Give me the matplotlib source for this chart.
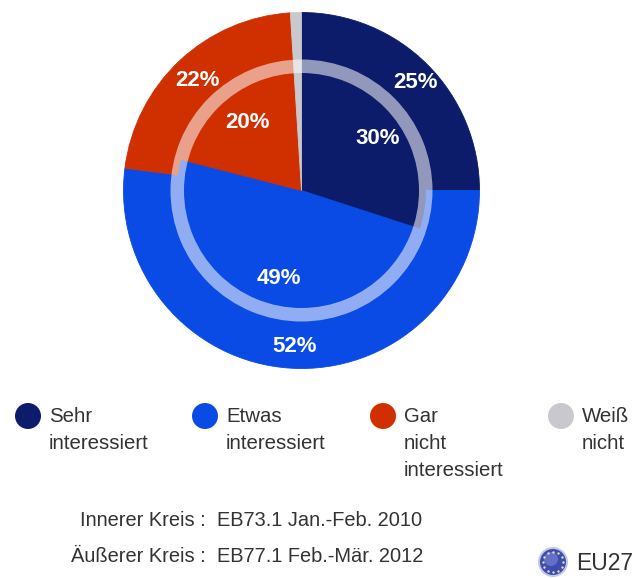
import numpy as np
import matplotlib
matplotlib.use("Agg")
import matplotlib.pyplot as plt
from matplotlib.patches import Circle, Wedge

plt.rcParams["font.family"] = ["Liberation Sans", "DejaVu Sans"]

outer_values = [25, 52, 22, 1]
inner_values = [30, 49, 20, 1]
colors = ["#0c1c6b", "#0a4be6", "#d03000", "#c9c9cd"]
categories = ["Sehr\ninteressiert", "Etwas\ninteressiert", "Gar\nnicht\ninteressiert", "Weiß\nnicht"]
outer_labels = ["25%", "52%", "22%"]
inner_labels = ["30%", "49%", "20%"]
footer_names = ["Innerer Kreis :", "Äußerer Kreis :"]
footer_waves = ["EB73.1 Jan.-Feb. 2010", "EB77.1 Feb.-Mär. 2012"]

W, H = 634, 578
fig = plt.figure(figsize=(W / 100, H / 100), dpi=100)
ax = fig.add_axes([0, 0, 1, 1])

CX, CY = 301.5, H - 190.5
TEXT_COL = "#333333"


def py(y):
    return H - y


outer, _ = ax.pie(outer_values, colors=colors, startangle=90, counterclock=False,
                  radius=178, center=(CX, CY), frame=False)
inner, _ = ax.pie(inner_values, colors=colors, startangle=90, counterclock=False,
                  radius=124, center=(CX, CY), frame=False)
# edge in the fill colour closes the hairline seams between slices
for w in outer + inner:
    w.set_edgecolor(w.get_facecolor())
    w.set_linewidth(0.6)

# pale ring between the two survey waves
ax.add_patch(Wedge((CX, CY), 131, 0, 360, width=13.5, fc="white", ec="none", alpha=0.55, zorder=5))

ax.set_xlim(0, W)
ax.set_ylim(0, H)
ax.set_aspect("equal")
ax.axis("off")

pct_style = dict(color="white", fontsize=16, fontweight="bold", ha="center", va="center", zorder=6)
for txt, (x, y) in zip(outer_labels, [(415, 82), (295, 346), (198, 80)]):
    ax.text(x, py(y), txt, **pct_style)
for txt, (x, y) in zip(inner_labels, [(378, 139), (279, 279), (247, 122)]):
    ax.text(x, py(y), txt, **pct_style)

# legend row
for col, cat, x in zip(colors, categories, [28, 205, 383, 561]):
    ax.add_patch(Circle((x, py(416)), 13, fc=col, ec="none"))
    ax.text(x + 21, py(407), cat, fontsize=14.7, color=TEXT_COL, ha="left", va="top",
            linespacing=1.54)

# survey notes
for name, wave, y in zip(footer_names, footer_waves, [521, 556]):
    ax.text(206, py(y), name, fontsize=14.4, color=TEXT_COL, ha="right", va="center")
    ax.text(217, py(y), wave, fontsize=14.4, color=TEXT_COL, ha="left", va="center")

# EU badge
ax.add_patch(Circle((553, py(562)), 15, fc="#c4c8e8", ec="none"))
ax.add_patch(Circle((553, py(562)), 13, fc="#3c4cb0", ec="none"))
ax.add_patch(Circle((551, py(559)), 7, fc="#7480d0", ec="none", alpha=0.7))
star_deg = np.arange(0, 360, 30)
ax.scatter(553 + 10 * np.cos(np.radians(star_deg)), py(562) + 10 * np.sin(np.radians(star_deg)),
           s=3, color="#e8e2a0", linewidths=0, zorder=4)
ax.text(576, py(563), "EU27", fontsize=16.5, color=TEXT_COL, ha="left", va="center")

fig.savefig("out.png", dpi=100)
